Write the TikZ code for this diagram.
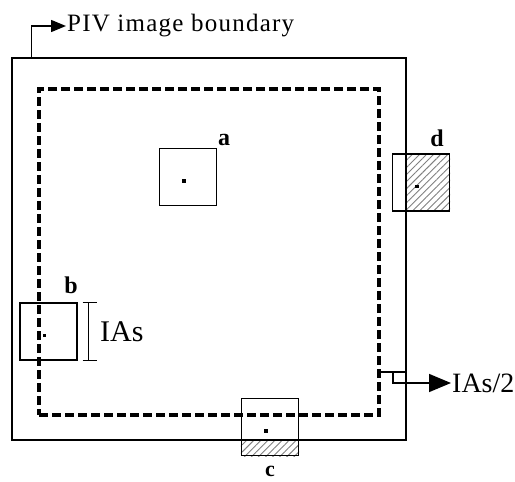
\documentclass[tikz,border=0pt]{standalone}
\usepackage{fontspec}
\setmainfont{Liberation Serif}
\newfontfamily\pivfont[LetterSpace=5]{Liberation Serif}
\usetikzlibrary{arrows.meta, positioning, patterns.meta}

\begin{document}
\begin{tikzpicture}[x=1pt, y=-1pt,
    boundary/.style={draw, line width=1.4pt, minimum width=394pt, minimum height=382pt, inner sep=0},
    valid/.style={draw, line width=3.5pt, dash pattern=on 9pt off 4pt, minimum width=340pt, minimum height=326pt, inner sep=0},
    iabox/.style={draw, line width=1.4pt, minimum size=57pt, inner sep=0},
    dot/.style={fill, minimum size=3.5pt, inner sep=0},
    tag/.style={font=\fontsize{24}{24}\selectfont\bfseries, inner sep=0},
    hatch/.style={pattern={Lines[angle=45, distance=5pt, line width=0.9pt]}, pattern color=gray}
]
    \useasboundingbox (0,0) rectangle (515,482);
    % interrogation areas
    \node[iabox] (a) at (188,177) {};
    \node[iabox] (b) at (48.5,331.5) {};
    \node[iabox] (c) at (270,427) {};
    \node[iabox] (d) at (421,182.5) {};
    \node[boundary] (piv) at (209,249) {};
    \path[hatch] (piv.east |- d.north) rectangle (d.south east);
    \path[hatch] (c.west |- piv.south) rectangle (c.south east);
    \node[boundary] at (piv) {};
    \node[valid] (valid) at (209,252) {};
    \foreach \n in {a,b,c,d}
        \node[iabox] at (\n) {};
    \foreach \n in {a,b,c,d}
        \node[dot] at ([shift={(-4,4)}]\n.center) {};
    \node[tag] (a-tag) at (224,140) {a};
    \node[tag] (b-tag) at (71,285) {b};
    \node[tag, font=\fontsize{22}{22}\selectfont\bfseries] (c-tag) at (270,471) {c};
    \node[tag] (d-tag) at (437,138) {d};
    % labels
    \node[anchor=west, inner sep=1pt, font=\pivfont\fontsize{25}{25}\selectfont] (piv-label) at (66,26) {PIV image boundary};
    \draw[line width=1.5pt, -{Triangle[length=15pt, width=12pt]}] ([xshift=20pt]piv.north west) |- (piv-label.west);
    \node[anchor=west, inner sep=0, font=\fontsize{30}{30}\selectfont] (ias) at (100,332) {IAs};
    \draw[line width=1.4pt] ([xshift=11pt]b.north east) -- ([xshift=11pt]b.south east);
    \draw[line width=1.4pt] ([xshift=5pt]b.north east) -- ([xshift=19pt]b.north east);
    \draw[line width=1.4pt] ([xshift=5pt]b.south east) -- ([xshift=19pt]b.south east);
    \coordinate (step) at (393,372);
    \node[anchor=west, inner sep=1pt, font=\fontsize{28}{28}\selectfont] (half-label) at (451,383) {IAs/2};
    \draw[line width=1.4pt] (valid.east |- step) -- ++(24,0);
    \draw[line width=1.6pt, -{Triangle[length=22pt, width=18pt]}] (step) |- (half-label.west);
\end{tikzpicture}
\end{document}
